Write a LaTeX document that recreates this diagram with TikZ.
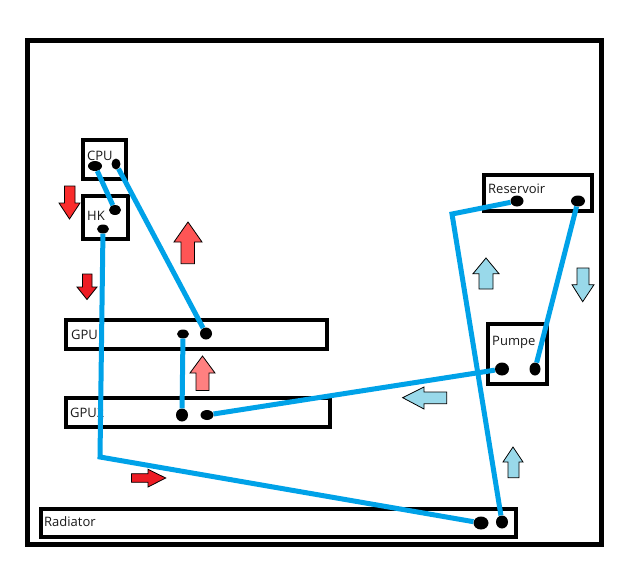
\documentclass[tikz,border=0pt]{standalone}
\usepackage{fontspec}
\setmainfont{Open Sans}
\usetikzlibrary{shapes.geometric}
\definecolor{pipe}{HTML}{00A2E8}
\definecolor{coolblue}{HTML}{99D9EA}
\definecolor{hotred}{HTML}{ED1C24}
\definecolor{hotbright}{HTML}{F92C2C}
\definecolor{coral}{HTML}{FF5555}
\definecolor{pinkish}{HTML}{FF8080}
\tikzset{
  box/.style={draw=black,line width=4pt,fill=none},
  casebox/.style={draw=black,line width=5pt},
  portel/.style={ellipse,fill=black,inner sep=0pt,minimum width=#1},
  portel/.default=12pt,
  lab/.style={anchor=base west,inner sep=0pt,font=\fontsize{13}{14}\selectfont,text=black!90},
  pipeline/.style={draw=pipe,line width=5pt,line join=miter},
  flow/.style={draw=black,line width=0.8pt,line join=miter},
}
\begin{document}
\begin{tikzpicture}[x=1pt,y=-1pt]
\useasboundingbox (0,0) rectangle (643,576);
\fill[white] (0,0) rectangle (643,576);
% case and component boxes
\draw[casebox] (27.5,40.5) rectangle (601,544);
\draw[box] (83,140) rectangle (126,179);
\draw[box] (83,196) rectangle (128,239);
\draw[box] (66,319.5) rectangle (327,349);
\draw[box] (66,398) rectangle (330,427);
\draw[box] (41,509) rectangle (516,537);
\draw[box] (484,175) rectangle (592,211);
\draw[box] (488,324) rectangle (547,384);
% labels
\node[lab] (lcpu) at (87,160) {CPU};
\node[lab] (lhk) at (87,220.5) {HK};
\node[lab] (lg1) at (71,339) {GPU1};
\node[lab] (lg2) at (70,417) {GPU2};
\node[lab] (lrad) at (44,526) {Radiator};
\node[lab] (lres) at (488,193) {Reservoir};
\node[lab] (lpum) at (492,345) {Pumpe};
% ports
\node[portel=14pt,minimum height=10pt] (cpua) at (95,166) {};
\node[portel=9pt,minimum height=11pt] (cpub) at (116,164) {};
\node[portel=12pt,minimum height=10pt] (hka) at (115,210) {};
\node[portel=12pt,minimum height=9pt] (hkb) at (103,229) {};
\node[portel=12pt,minimum height=9pt] (g1a) at (183,334) {};
\node[portel=12pt,minimum height=12pt] (g1b) at (206,333.5) {};
\node[portel=12pt,minimum height=13pt] (g2a) at (182,415) {};
\node[portel=13pt,minimum height=10pt] (g2b) at (207,415) {};
\node[portel=13pt,minimum height=11pt] (resa) at (517,201) {};
\node[portel=14pt,minimum height=11pt] (resb) at (578,201) {};
\node[portel=14pt,minimum height=13pt] (puma) at (502,369) {};
\node[portel=11pt,minimum height=13pt] (pumb) at (535,369) {};
\node[portel=15pt,minimum height=13pt] (rada) at (481,523) {};
\node[portel=12pt,minimum height=13pt] (radb) at (502,522) {};
\coordinate (bendhot) at (100,457);
\coordinate (bendcool) at (452,214);
% connectors
\draw[pipeline] (cpua) -- (hka);
\draw[pipeline] (cpub) -- (g1b);
\draw[pipeline] (g1a) -- (g2a);
\draw[pipeline] (g2b) -- (puma);
\draw[pipeline] (pumb) -- (resb);
\draw[pipeline] (hkb) -- (bendhot) -- (rada);
\draw[pipeline] (resa) -- (bendcool) -- (radb);
% flow arrows
\draw[flow,fill=hotbright] (64.5,186) -- (75,186) -- (75,203) -- (80,203) -- (69.5,219) -- (59,203) -- (64.5,203) -- cycle;
\draw[flow,fill=hotred] (82.5,274) -- (92,274) -- (92,287) -- (97,287) -- (87,299.5) -- (77,287) -- (82.5,287) -- cycle;
\draw[flow,fill=coral] (181,263.7) -- (194.5,263.7) -- (194.5,242) -- (202,242) -- (188,222) -- (174,242) -- (181,242) -- cycle;
\draw[flow,fill=pinkish] (196,390.5) -- (209,390.5) -- (209,373) -- (215,373) -- (202.5,356) -- (190,373) -- (196,373) -- cycle;
\draw[flow,fill=hotred] (131.5,473.7) -- (148,473.7) -- (148,469.3) -- (165.7,478) -- (148,487) -- (148,482.3) -- (131.5,482.3) -- cycle;
\draw[flow,fill=coolblue] (446.7,392) -- (424,392) -- (424,387) -- (402.7,397.7) -- (424,409) -- (424,403.7) -- (446.7,403.7) -- cycle;
\draw[flow,fill=coolblue] (508,477.7) -- (519,477.7) -- (519,462) -- (523,462) -- (513,447) -- (503,462) -- (508,462) -- cycle;
\draw[flow,fill=coolblue] (479,289) -- (493,289) -- (493,273.7) -- (499,273.7) -- (486,258) -- (473,273.7) -- (479,273.7) -- cycle;
\draw[flow,fill=coolblue] (577,268) -- (589,268) -- (589,284.7) -- (594,284.7) -- (582.7,301.7) -- (572,284.7) -- (577,284.7) -- cycle;
\end{tikzpicture}
\end{document}
